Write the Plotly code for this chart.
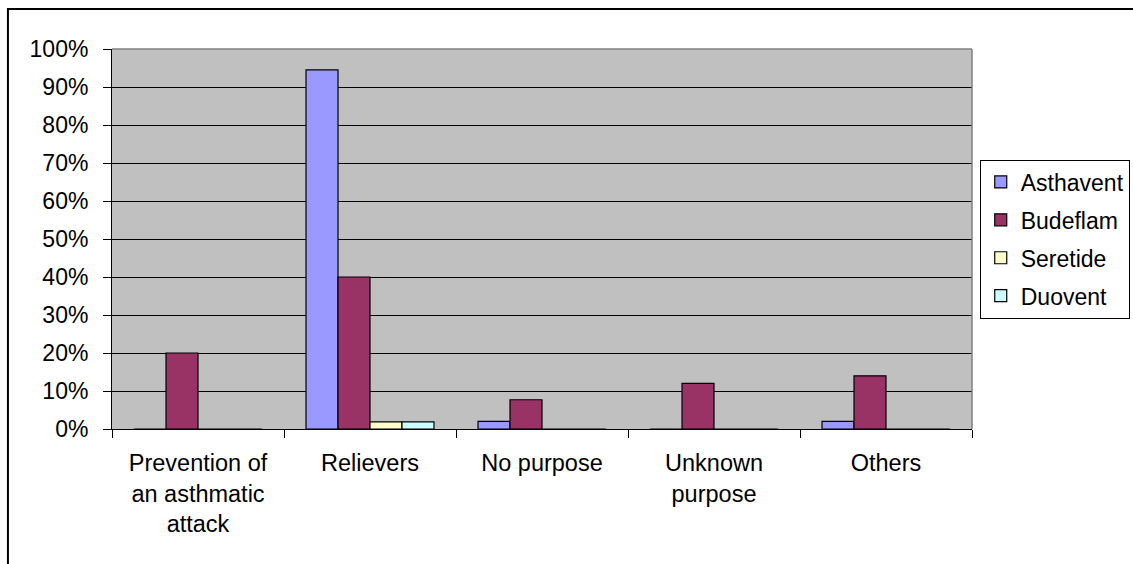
import plotly.graph_objects as go

categories = ["Prevention of<br>an asthmatic<br>attack", "Relievers", "No purpose",
              "Unknown<br>purpose", "Others"]
series_names = ["Asthavent", "Budeflam", "Seretide", "Duovent"]
asthavent = [0, 94.5, 2, 0, 2]
budeflam = [20, 40, 7.7, 12, 14]
seretide = [0, 1.9, 0, 0, 0]
duovent = [0, 1.9, 0, 0, 0]
colors = ["#9999FF", "#993366", "#FFFFCC", "#CCFFFF"]
y_tickvals = [0, 10, 20, 30, 40, 50, 60, 70, 80, 90, 100]
y_ticktext = ["0%", "10%", "20%", "30%", "40%", "50%", "60%", "70%", "80%", "90%", "100%"]

FONT = "Liberation Sans, Arial, sans-serif"

fig = go.Figure()
for name, vals, col in zip(series_names, [asthavent, budeflam, seretide, duovent], colors):
    fig.add_trace(go.Bar(
        name=name, x=categories, y=vals, legendgroup=name,
        marker=dict(color=col, line=dict(color="black", width=1.2)),
    ))

fig.update_layout(
    width=1133, height=564,
    margin=dict(l=112, r=161, t=49, b=135, autoexpand=False),
    paper_bgcolor="white", plot_bgcolor="#C0C0C0",
    barmode="group", bargap=0.256, bargroupgap=0,
    font=dict(family=FONT, size=23, color="black"),
    showlegend=True,
    legend=dict(
        x=1.009, xanchor="left", y=0.5, yanchor="middle",
        bgcolor="white", bordercolor="black", borderwidth=1,
        font=dict(family=FONT, size=23, color="black"),
        tracegroupgap=5, itemwidth=30,
    ),
    xaxis=dict(
        type="category", showgrid=False, showline=True, linecolor="black", linewidth=1,
        ticks="outside", tickson="boundaries", ticklen=8, tickcolor="black",
        tickfont=dict(family=FONT, size=23.5, color="black"),
        ticklabelstandoff=13, automargin=False,
    ),
    yaxis=dict(
        range=[0, 100], tickvals=y_tickvals, ticktext=y_ticktext,
        showgrid=True, gridcolor="black", gridwidth=1,
        showline=True, linecolor="black", linewidth=1,
        ticks="outside", ticklen=8, tickcolor="black",
        tickfont=dict(family=FONT, size=23, color="black"),
        ticklabelstandoff=10, zeroline=False, automargin=False,
    ),
    shapes=[
        dict(type="line", xref="paper", yref="paper", x0=0, x1=1, y0=1, y1=1,
             line=dict(color="#808080", width=1.5), layer="above"),
        dict(type="line", xref="paper", yref="paper", x0=1, x1=1, y0=0, y1=1,
             line=dict(color="#808080", width=1.5), layer="above"),
        dict(type="rect", xref="paper", yref="paper", x0=-0.121, x1=1.4, y0=-0.6, y1=1.105,
             line=dict(color="black", width=2), fillcolor="rgba(0,0,0,0)", layer="above"),
    ],
)

fig.write_html("out.html")
